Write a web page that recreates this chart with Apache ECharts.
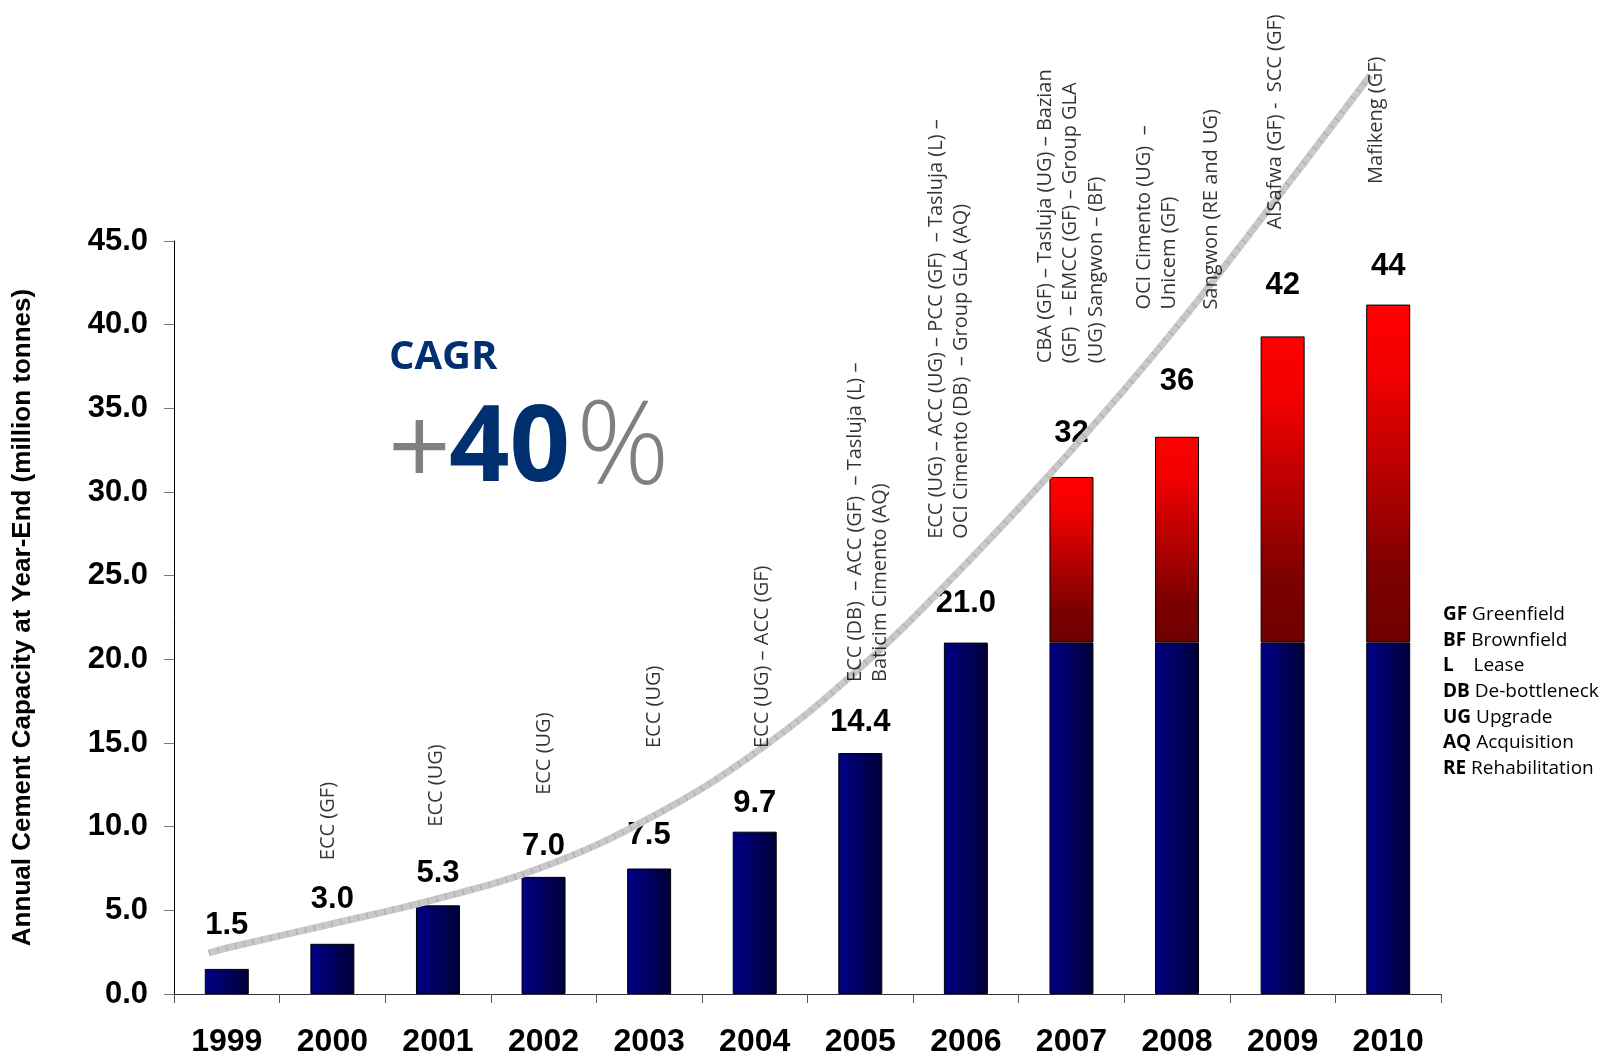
<!DOCTYPE html>
<html>
<head>
<meta charset="utf-8">
<script src="https://cdn.jsdelivr.net/npm/echarts@6/dist/echarts.min.js"></script>
<style>
html,body{margin:0;padding:0;background:#fff;}
#chart{width:1620px;height:1062px;}
</style>
</head>
<body>
<div id="chart"></div>
<script>
// ---- data ----
const years = ['1999','2000','2001','2002','2003','2004','2005','2006','2007','2008','2009','2010'];
const baseCapacity = [1.5, 3.0, 5.3, 7.0, 7.5, 9.7, 14.4, 21.0, 21.0, 21.0, 21.0, 21.0];
const addedCapacity = [null, null, null, null, null, null, null, null, 9.9, 12.3, 18.3, 20.2];
const valueLabels = ['1.5','3.0','5.3','7.0','7.5','9.7','14.4','21.0','32','36','42','44'];
const yTicks = [0, 5, 10, 15, 20, 25, 30, 35, 40, 45];
const trendX = [-0.17, 0, 1, 2, 3, 4, 5, 6, 7, 8, 9, 10, 10.83];
const trendY = [2.45, 2.75, 4.2, 5.7, 7.6, 10.5, 14.4, 19.5, 25.7, 32.5, 39.9, 48.0, 54.9];
const noteText = [
  'ECC (GF)',
  'ECC (UG)',
  'ECC (UG)',
  'ECC (UG)',
  'ECC (UG) – ACC (GF)',
  'ECC (DB)  – ACC (GF)  – Tasluja (L) –\nBaticim Cimento (AQ)',
  'ECC (UG) – ACC (UG) – PCC (GF)  – Tasluja (L) –\nOCI Cimento (DB)  – Group GLA (AQ)',
  'CBA (GF) – Tasluja (UG) – Bazian\n(GF)  – EMCC (GF) – Group GLA\n(UG) Sangwon – (BF)',
  'OCI Cimento (UG)  –\nUnicem (GF)',
  'Sangwon (RE and UG)',
  'AlSafwa (GF) -  SCC (GF)',
  'Mafikeng (GF)'
];
const noteX = [0.96, 1.98, 3.01, 4.05, 5.07, 6.07, 6.84, 7.99, 8.81, 9.32, 9.93, 10.89];
const noteY = [8.0, 10.0, 11.9, 14.7, 14.7, 18.65, 27.2, 37.7, 40.9, 40.9, 45.7, 48.4];
const legendCodes = ['GF', 'BF', 'L', 'DB', 'UG', 'AQ', 'RE'];
const legendNames = ['Greenfield', 'Brownfield', '   Lease', 'De-bottleneck', 'Upgrade', 'Acquisition', 'Rehabilitation'];

// ---- label gaps above each bar (px, style only) ----
const labelGap = [28, 29, 16, 15, 18, 13, 15, 24, 28, 40, 35, 23];

// ---- chart ----
const chart = echarts.init(document.getElementById('chart'));
const ARIAL = '"Liberation Sans", Arial, sans-serif';
const SANS = '"Open Sans", "Noto Sans", sans-serif';

const blueFill = new echarts.graphic.LinearGradient(0, 0, 1, 0, [
  {offset: 0, color: '#000088'},
  {offset: 1, color: '#000036'}
]);
const redFill = new echarts.graphic.LinearGradient(0, 0, 0, 1, [
  {offset: 0, color: '#ff0000'},
  {offset: 0.2, color: '#f20000'},
  {offset: 0.8, color: '#7c0000'},
  {offset: 1, color: '#700000'}
]);

const barLabel = {
  show: true,
  position: 'top',
  fontFamily: ARIAL,
  fontWeight: 'bold',
  fontSize: 31,
  color: '#000'
};

function barItems(values, withLabel) {
  return values.map((v, i) => ({
    value: v,
    label: Object.assign({}, barLabel, {
      show: withLabel(i),
      distance: labelGap[i],
      formatter: valueLabels[i]
    })
  }));
}

const legendText = legendCodes.map((c, i) => '{b|' + c + '} ' + legendNames[i]).join('\n');

chart.setOption({
  animation: false,
  backgroundColor: '#fff',
  grid: {left: 174, right: 179, top: 241, bottom: 68, containLabel: false},
  xAxis: [
    {
      type: 'category',
      data: years,
      axisLine: {lineStyle: {color: '#333', width: 1}},
      axisTick: {show: true, interval: 0, length: 9, lineStyle: {color: '#555'}},
      axisLabel: {interval: 0, margin: 32, fontFamily: ARIAL, fontWeight: 'bold', fontSize: 32, color: '#000'},
      splitLine: {show: false}
    },
    {
      type: 'value',
      min: -0.5,
      max: 11.5,
      show: false
    }
  ],
  yAxis: {
    type: 'value',
    min: yTicks[0],
    max: yTicks[yTicks.length - 1],
    interval: yTicks[1] - yTicks[0],
    name: 'Annual Cement Capacity at Year-End (million tonnes)',
    nameLocation: 'middle',
    nameGap: 138,
    nameTextStyle: {fontFamily: ARIAL, fontWeight: 'bold', fontSize: 26, color: '#000'},
    axisLine: {show: true, onZero: false, lineStyle: {color: '#000', width: 1}},
    axisTick: {show: true, length: 10, lineStyle: {color: '#777'}},
    axisLabel: {
      margin: 26,
      fontFamily: ARIAL, fontWeight: 'bold', fontSize: 31, color: '#000',
      formatter: v => v.toFixed(1)
    },
    splitLine: {show: false}
  },
  series: [
    {
      name: 'base',
      type: 'bar',
      stack: 'cap',
      barWidth: 44,
      data: barItems(baseCapacity, i => addedCapacity[i] == null),
      itemStyle: {color: blueFill, borderColor: '#000', borderWidth: 1},
      z: 3
    },
    {
      name: 'added',
      type: 'bar',
      stack: 'cap',
      barWidth: 44,
      data: barItems(addedCapacity, i => addedCapacity[i] != null),
      itemStyle: {color: redFill, borderColor: '#000', borderWidth: 1},
      z: 3
    },
    {
      name: 'trend',
      type: 'line',
      xAxisIndex: 1,
      smooth: 0.4,
      clip: false,
      symbol: 'none',
      data: trendX.map((x, i) => [x, trendY[i]]),
      lineStyle: {color: '#c9c9c9', width: 7, cap: 'butt'},
      z: 4,
      silent: true
    },
    {
      name: 'trendHatch',
      type: 'line',
      xAxisIndex: 1,
      smooth: 0.4,
      clip: false,
      symbol: 'none',
      data: trendX.map((x, i) => [x, trendY[i]]),
      lineStyle: {color: '#a8a8a8', width: 6, type: [1, 8], cap: 'butt'},
      z: 5,
      silent: true
    },
    {
      name: 'notes',
      type: 'scatter',
      xAxisIndex: 1,
      clip: false,
      symbolSize: 0,
      silent: true,
      data: noteX.map((x, i) => ({value: [x, noteY[i]], name: noteText[i]})),
      label: {
        show: true,
        position: 'inside',
        rotate: 90,
        align: 'left',
        verticalAlign: 'middle',
        fontFamily: SANS,
        fontSize: 20,
        lineHeight: 25.5,
        color: '#000',
        formatter: p => p.name
      },
      z: 6
    }
  ],
  graphic: [
    {
      type: 'text', left: 389, top: 338,
      style: {text: 'CAGR', font: 'bold 40px "Open Sans", sans-serif', fill: '#003070'}
    },
    {
      type: 'text', x: 388, y: 454,
      style: {text: '+', font: '110px "Open Sans", sans-serif', fill: '#808080', verticalAlign: 'middle', align: 'left'}
    },
    {
      type: 'text', x: 449, y: 451,
      style: {text: '40', font: 'bold 106px "Open Sans", sans-serif', fill: '#003070', verticalAlign: 'middle', align: 'left'}
    },
    {
      type: 'text', x: 576, y: 451,
      style: {text: '%', font: '300 116px "Open Sans", sans-serif', fill: '#808080', verticalAlign: 'middle', align: 'left'}
    },
    {
      type: 'text', left: 1443, top: 602,
      style: {
        text: legendText,
        fontFamily: SANS, fontSize: 19, lineHeight: 25.6, fill: '#000',
        rich: {b: {fontFamily: SANS, fontSize: 19, fontWeight: 'bold', lineHeight: 25.6, fill: '#000'}}
      }
    }
  ]
});
</script>
</body>
</html>
